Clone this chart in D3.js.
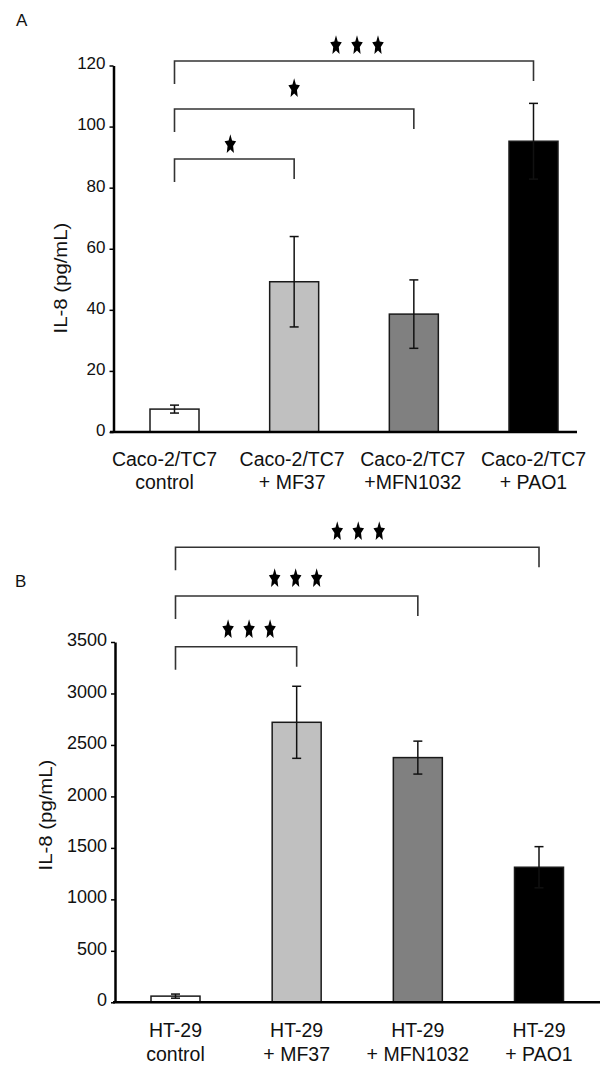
<!DOCTYPE html>
<html>
<head>
<meta charset="utf-8">
<script src="https://cdn.jsdelivr.net/npm/d3@7"></script>
<style>
  html, body { margin: 0; padding: 0; background: #fff; }
  svg { display: block; }
  text { font-family: "Liberation Sans", Arial, sans-serif; fill: #111; }
</style>
</head>
<body>
<svg id="chart" width="600" height="1091"></svg>
<script>
// ---------------- data ----------------
const categoriesA = [["Caco-2/TC7", "control"], ["Caco-2/TC7", "+ MF37"], ["Caco-2/TC7", "+MFN1032"], ["Caco-2/TC7", "+ PAO1"]];
const valuesA = [7.5, 49.2, 38.6, 95.2];
const errorsA = [1.3, 14.8, 11.2, 12.4];
const ticksA = [0, 20, 40, 60, 80, 100, 120];
const comparisonsA = [
  { from: 0, to: 1, stars: 1 },
  { from: 0, to: 2, stars: 1 },
  { from: 0, to: 3, stars: 3 }
];

const categoriesB = [["HT-29", "control"], ["HT-29", "+ MF37"], ["HT-29", "+ MFN1032"], ["HT-29", "+ PAO1"]];
const valuesB = [60, 2720, 2377, 1312];
const errorsB = [20, 350, 160, 200];
const ticksB = [0, 500, 1000, 1500, 2000, 2500, 3000, 3500];
const comparisonsB = [
  { from: 0, to: 1, stars: 3 },
  { from: 0, to: 2, stars: 3 },
  { from: 0, to: 3, stars: 3 }
];

const barColors = ["#ffffff", "#c0c0c0", "#808080", "#000000"];
const yTitle = "IL-8 (pg/mL)";

// ---------------- layout ----------------
const svg = d3.select("#chart");

const panels = [
  {
    letter: "A", letterX: 16, letterY: 25.5,
    cats: categoriesA, vals: valuesA, errs: errorsA, ticks: ticksA, comps: comparisonsA,
    yDomain: [0, 120], yRange: [432, 65.5],
    xRange: [174.5, 533.5], axisX: 113.5, baseX: [110, 577],
    tickFont: 17,
    labelDx: [-10, -2, -1, 0],
    label1Y: 466, label2Y: 489,
    titleX: 61, titleY: 278,
    brackets: [
      { y: 159, starY: 143, dx: -4 },
      { y: 109, starY: 87, dx: 0 },
      { y: 61, starY: 44, dx: 3 }
    ]
  },
  {
    letter: "B", letterX: 15, letterY: 587,
    cats: categoriesB, vals: valuesB, errs: errorsB, ticks: ticksB, comps: comparisonsB,
    yDomain: [0, 3500], yRange: [1002.3, 642],
    xRange: [175.5, 539], axisX: 115, baseX: [113, 600],
    tickFont: 18,
    labelDx: [0, 0, 0, 0],
    label1Y: 1037, label2Y: 1060.5,
    titleX: 46, titleY: 815,
    brackets: [
      { y: 646.7, starY: 628, dx: 13 },
      { y: 596, starY: 577, dx: -1 },
      { y: 547.3, starY: 530, dx: 1 }
    ]
  }
];

const barWidth = 49;
const capW = 9;
const starSpacing = 21;

// five-pointed star (outer radius R, inner radius 0.48R)
function starD(R) {
  const pts = [];
  for (let k = 0; k < 10; k++) {
    const r = k % 2 === 0 ? R : R * 0.48;
    const a = -Math.PI / 2 + k * Math.PI / 5;
    pts.push([r * Math.cos(a), r * Math.sin(a)]);
  }
  return d3.line()(pts) + "Z";
}
const starPath = starD(6.1);

panels.forEach(p => {
  const g = svg.append("g");
  const idx = p.cats.map((d, i) => i);
  const x = d3.scalePoint().domain(idx).range(p.xRange);
  const y = d3.scaleLinear().domain(p.yDomain).range(p.yRange);

  // panel letter
  g.append("text").attr("x", p.letterX).attr("y", p.letterY)
    .attr("font-size", 17).text(p.letter);

  // bars
  g.selectAll("rect.bar").data(p.vals).join("rect")
    .attr("class", "bar")
    .attr("x", (d, i) => x(i) - barWidth / 2)
    .attr("width", barWidth)
    .attr("y", d => y(d))
    .attr("height", d => y(0) - y(d))
    .attr("fill", (d, i) => barColors[i])
    .attr("stroke", "#1a1a1a")
    .attr("stroke-width", 1.5);

  // error bars
  const eb = g.selectAll("g.err").data(p.vals).join("g").attr("class", "err")
    .attr("stroke", "#111").attr("stroke-width", 1.5);
  eb.append("line")
    .attr("x1", (d, i) => x(i)).attr("x2", (d, i) => x(i))
    .attr("y1", (d, i) => y(d + p.errs[i])).attr("y2", (d, i) => y(d - p.errs[i]));
  eb.append("line")
    .attr("x1", (d, i) => x(i) - capW / 2).attr("x2", (d, i) => x(i) + capW / 2)
    .attr("y1", (d, i) => y(d + p.errs[i])).attr("y2", (d, i) => y(d + p.errs[i]));
  eb.append("line")
    .attr("x1", (d, i) => x(i) - capW / 2).attr("x2", (d, i) => x(i) + capW / 2)
    .attr("y1", (d, i) => y(d - p.errs[i])).attr("y2", (d, i) => y(d - p.errs[i]));

  // baseline
  g.append("line")
    .attr("x1", p.baseX[0]).attr("x2", p.baseX[1])
    .attr("y1", y(0)).attr("y2", y(0))
    .attr("stroke", "#000").attr("stroke-width", 2.5);

  // y axis
  const axis = d3.axisLeft(y).tickValues(p.ticks).tickSize(4).tickSizeOuter(0).tickPadding(4)
    .tickFormat(d3.format("d"));
  const ag = g.append("g").attr("transform", `translate(${p.axisX},0)`).call(axis);
  ag.select(".domain").attr("stroke", "#000").attr("stroke-width", 2.5);
  ag.selectAll(".tick line").attr("stroke", "#000").attr("stroke-width", 1.5);
  ag.selectAll(".tick text")
    .attr("font-family", "Liberation Sans, Arial, sans-serif")
    .attr("font-size", p.tickFont).attr("fill", "#111").attr("dy", "0.2em");

  // y title
  g.append("text")
    .attr("transform", `translate(${p.titleX},${p.titleY}) rotate(-90) scale(1.1,1)`)
    .attr("text-anchor", "middle").attr("dy", "0.35em")
    .attr("font-size", 18.5).text(yTitle);

  // category labels
  const lab = g.selectAll("text.cat").data(p.cats).join("text")
    .attr("class", "cat").attr("text-anchor", "middle").attr("font-size", 19.5);
  lab.append("tspan").attr("x", (d, i) => x(i) + p.labelDx[i]).attr("y", p.label1Y).text(d => d[0]);
  lab.append("tspan").attr("x", (d, i) => x(i) + p.labelDx[i]).attr("y", p.label2Y).text(d => d[1]);

  // significance brackets
  p.comps.forEach((c, k) => {
    const b = p.brackets[k];
    const x0 = x(c.from), x1 = x(c.to);
    g.append("path")
      .attr("d", `M${x0},${b.y + 23}V${b.y}H${x1}V${b.y + 20}`)
      .attr("fill", "none").attr("stroke", "#333").attr("stroke-width", 1.6);
    const cx = (x0 + x1) / 2 + b.dx;
    d3.range(c.stars).forEach(s => {
      const sx = cx + (s - (c.stars - 1) / 2) * starSpacing;
      g.append("path")
        .attr("d", starPath)
        .attr("transform", `translate(${sx},${b.starY + 1.5}) scale(1,1.7)`)
        .attr("fill", "#000");
    });
  });
});
</script>
</body>
</html>
